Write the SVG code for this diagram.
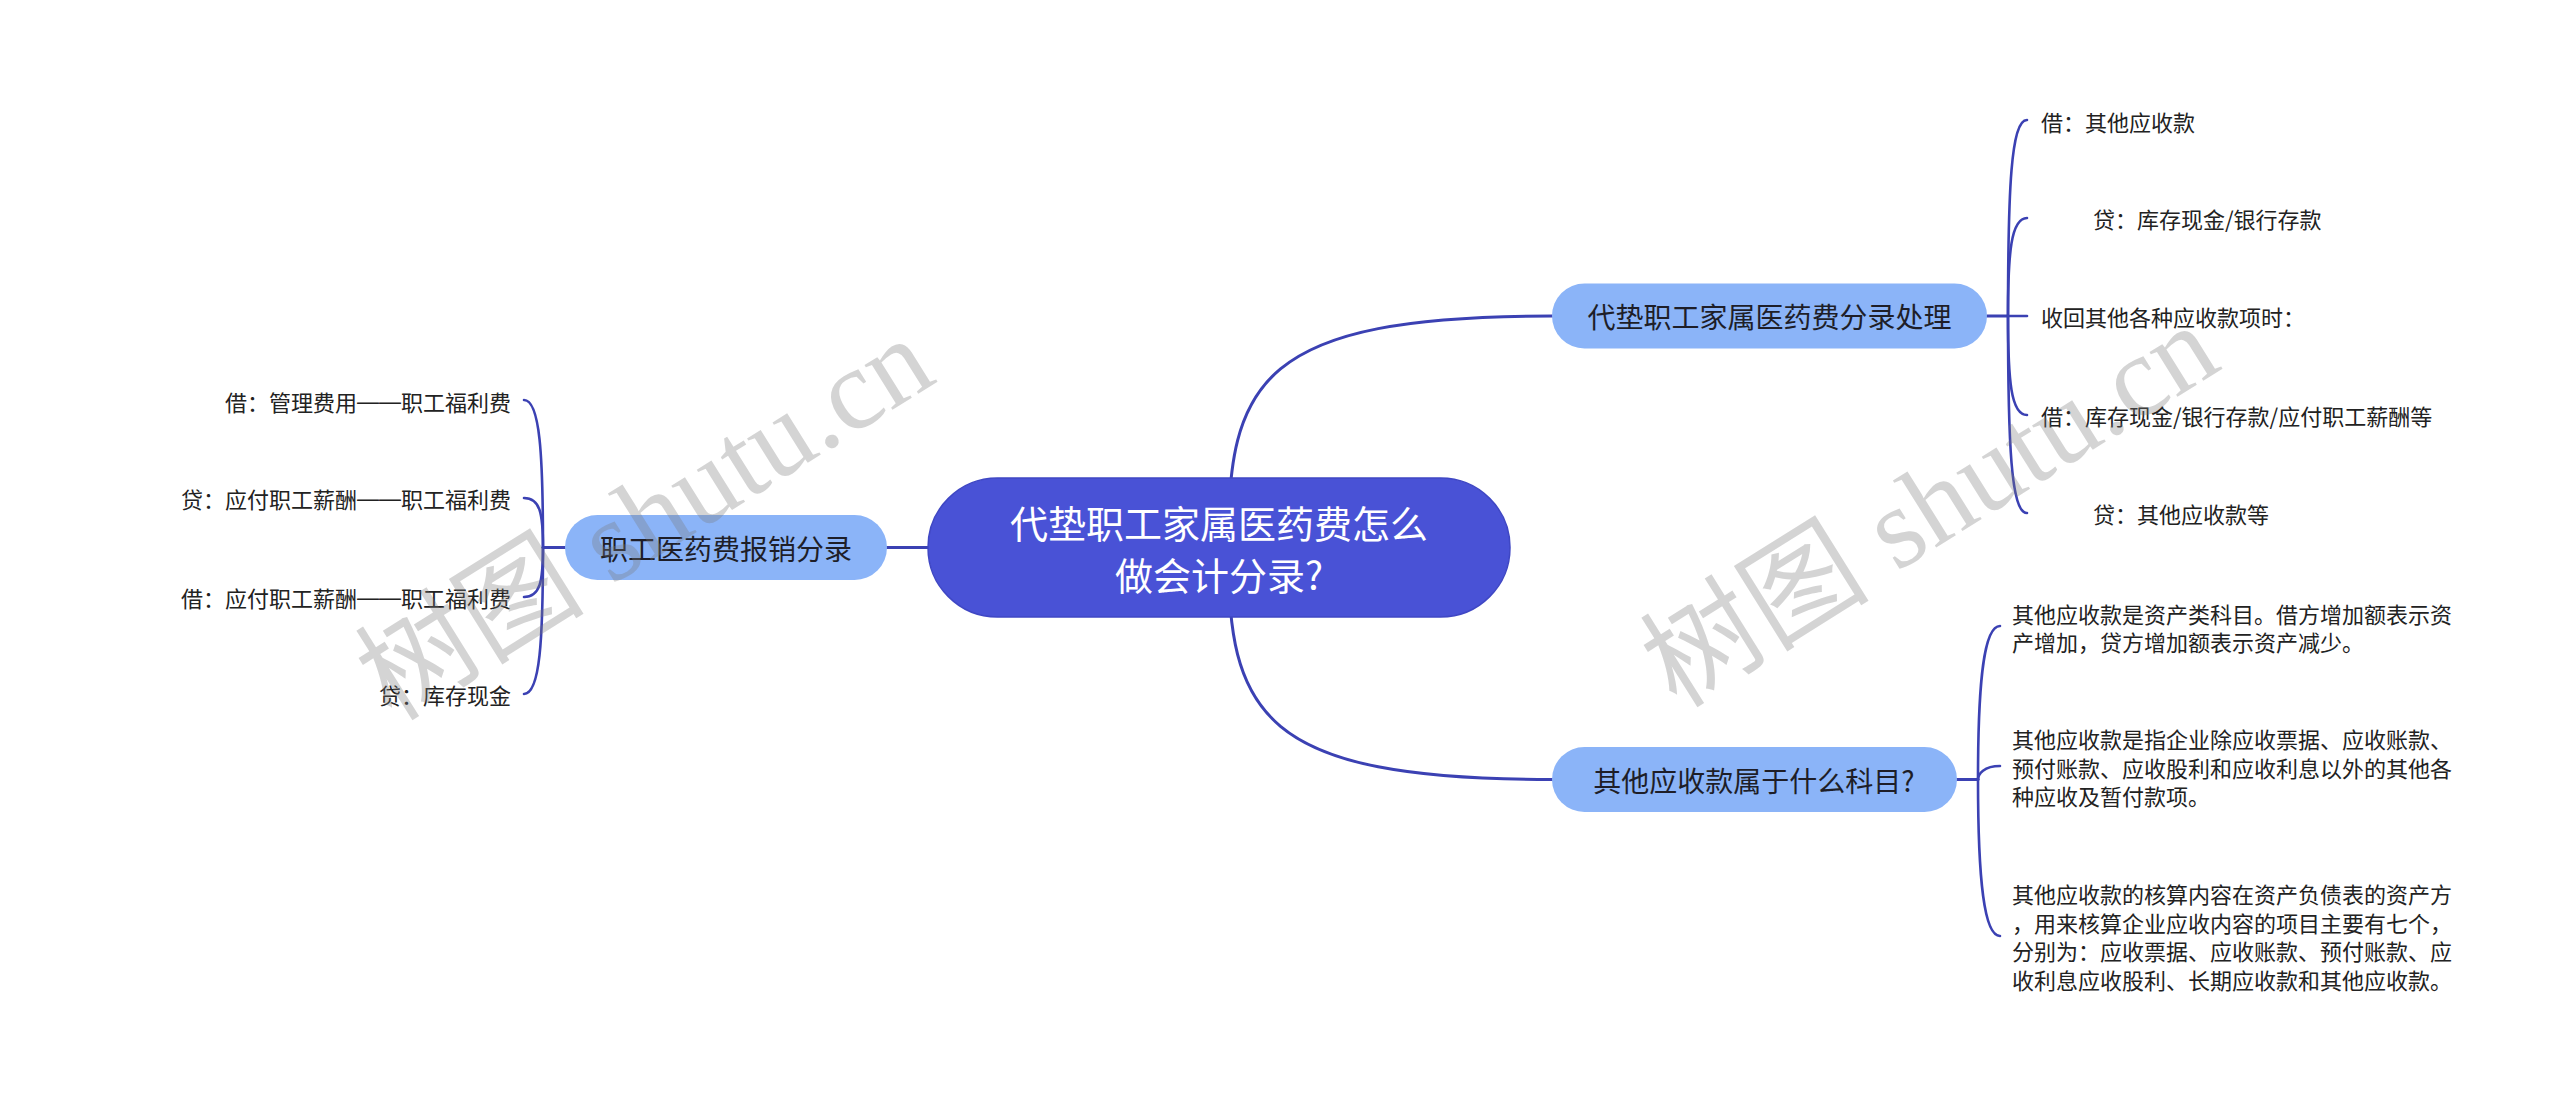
<svg xmlns="http://www.w3.org/2000/svg" width="2560" height="1097" viewBox="0 0 2560 1097">
<style>
.t{font-family:"Noto Sans CJK SC","Liberation Sans",sans-serif;dominant-baseline:central}
.leaf{font-size:22px;fill:#222}
.dash{font-family:"Liberation Sans","Noto Sans CJK SC",sans-serif}
.sub{font-size:28px;fill:#1e1e28;text-anchor:middle}
.root{font-size:38px;fill:#fff;text-anchor:middle}
.c{fill:none;stroke:#3b41b3;stroke-width:3;stroke-linecap:round}
.cl{fill:none;stroke:#3b41b3;stroke-width:2.6;stroke-linecap:round}
.subn{fill:#8bb4f8}
.wm{font-family:"Liberation Serif","Noto Sans CJK SC",serif;font-size:115px;fill:#7a7a7a;fill-opacity:0.32;text-anchor:middle;dominant-baseline:central}
</style>
<rect width="2560" height="1097" fill="#fff"/>
<g id="connectors">
<path class="c" d="M1228,547.5 C1228,380 1260,316 1552,316"/>
<path class="c" d="M1228,547.5 C1228,715 1260,779.5 1552,779.5"/>
<path class="c" d="M887,547.5 H928"/>
<path class="c" d="M565,547.5 H543"/>
<path class="c" d="M1987,316 H2008"/>
<path class="c" d="M1957,779.5 H1978"/>
<path class="cl" d="M543,547.5 C543,455 540,400 524,400"/>
<path class="cl" d="M543,547.5 C543,513 540,498 524,498"/>
<path class="cl" d="M543,547.5 C543,582 540,597 524,597"/>
<path class="cl" d="M543,547.5 C543,640 540,694 524,694"/>
<path class="cl" d="M2008,316 C2008,189 2011,120 2027,120"/>
<path class="cl" d="M2008,316 C2008,253 2011,218 2027,218"/>
<path class="cl" d="M2008,316 H2027"/>
<path class="cl" d="M2008,316 C2008,381 2011,415 2027,415"/>
<path class="cl" d="M2008,316 C2008,444 2011,513 2027,513"/>
<path class="cl" d="M1978,779.5 C1978,680 1984,626 2000,626"/>
<path class="cl" d="M1978,779.5 C1978,774 1984,766 2000,766"/>
<path class="cl" d="M1978,779.5 C1978,880 1984,936 2000,936"/>
</g>
<g id="root">
<rect x="928" y="478" width="582" height="139" rx="69.5" fill="#4952d6" stroke="#3f47c4" stroke-width="1.5"/>
<text class="t root" x="1219" y="521.5">代垫职工家属医药费怎么</text>
<text class="t root" x="1219" y="573.5">做会计分录?</text>
</g>
<g id="n-left">
<rect class="subn" x="565" y="515" width="322" height="65" rx="32.5"/>
<text class="t sub" x="726" y="547.5">职工医药费报销分录</text>
</g>
<g id="n-right1">
<rect class="subn" x="1552" y="283.5" width="435" height="65" rx="32.5"/>
<text class="t sub" x="1769.5" y="316">代垫职工家属医药费分录处理</text>
</g>
<g id="n-right2">
<rect class="subn" x="1552" y="747" width="405" height="65" rx="32.5"/>
<text class="t sub" x="1754" y="779.5">其他应收款属于什么科目?</text>
</g>
<g id="l1"><text class="t leaf" x="511" y="401" text-anchor="end">借：管理费用<tspan class="dash">——</tspan>职工福利费</text></g>
<g id="l2"><text class="t leaf" x="511" y="498" text-anchor="end">贷：应付职工薪酬<tspan class="dash">——</tspan>职工福利费</text></g>
<g id="l3"><text class="t leaf" x="511" y="597" text-anchor="end">借：应付职工薪酬<tspan class="dash">——</tspan>职工福利费</text></g>
<g id="l4"><text class="t leaf" x="511" y="694" text-anchor="end">贷：库存现金</text></g>
<g id="r1"><text class="t leaf" x="2041" y="121">借：其他应收款</text></g>
<g id="r2"><text class="t leaf" x="2093" y="218">贷：库存现金/银行存款</text></g>
<g id="r3"><text class="t leaf" x="2041" y="316">收回其他各种应收款项时：</text></g>
<g id="r4"><text class="t leaf" x="2041" y="415">借：库存现金/银行存款/应付职工薪酬等</text></g>
<g id="r5"><text class="t leaf" x="2093" y="513">贷：其他应收款等</text></g>
<g id="p1">
<text class="t leaf" x="2012" y="613">其他应收款是资产类科目。借方增加额表示资</text>
<text class="t leaf" x="2012" y="641">产增加，贷方增加额表示资产减少。</text>
</g>
<g id="p2">
<text class="t leaf" x="2012" y="738">其他应收款是指企业除应收票据、应收账款、</text>
<text class="t leaf" x="2012" y="766.5">预付账款、应收股利和应收利息以外的其他各</text>
<text class="t leaf" x="2012" y="795">种应收及暂付款项。</text>
</g>
<g id="p3">
<text class="t leaf" x="2012" y="893">其他应收款的核算内容在资产负债表的资产方</text>
<text class="t leaf" x="2012" y="921.5">，用来核算企业应收内容的项目主要有七个，</text>
<text class="t leaf" x="2012" y="950">分别为：应收票据、应收账款、预付账款、应</text>
<text class="t leaf" x="2012" y="978.5">收利息应收股利、长期应收款和其他应收款。</text>
</g>
<g id="watermark">
<text class="wm" transform="translate(645,519) rotate(-32)">树图 shutu.cn</text>
<text class="wm" transform="translate(1930,506) rotate(-32)">树图 shutu.cn</text>
</g>
</svg>
